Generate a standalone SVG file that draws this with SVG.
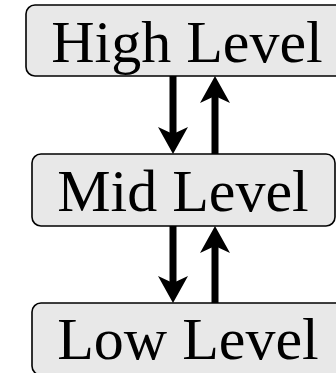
<svg xmlns="http://www.w3.org/2000/svg" width="336" height="373" viewBox="0 0 336 373">
<defs>
<style>
.box{fill:#e8e8e8;stroke:#000;stroke-width:1.6}
.lbl{font-family:"Liberation Serif","Times New Roman",serif;font-size:60px;fill:#000;text-anchor:middle}
.edge{stroke:#000;stroke-width:7;fill:none}
.head{fill:#000}
</style>
</defs>
<g id="high">
<rect class="box" x="26" y="5" width="322" height="71" rx="9"/>
<text class="lbl" x="187" y="62">High Level</text>
</g>
<g id="mid">
<rect class="box" x="32" y="154" width="303" height="72" rx="9"/>
<text class="lbl" x="183" y="211">Mid Level</text>
</g>
<g id="low">
<rect class="box" x="32" y="303" width="312" height="72" rx="9"/>
<text class="lbl" x="188" y="359">Low Level</text>
</g>
<g id="connectors">
<line class="edge" x1="173" y1="76" x2="173" y2="138"/>
<path class="head" d="M173,154 L158,127 L173,134 L188,127 Z"/>
<line class="edge" x1="215" y1="154" x2="215" y2="92"/>
<path class="head" d="M215,76 L200,103 L215,96 L230,103 Z"/>
<line class="edge" x1="173" y1="226" x2="173" y2="287"/>
<path class="head" d="M173,303 L158,276 L173,283 L188,276 Z"/>
<line class="edge" x1="215" y1="303" x2="215" y2="242"/>
<path class="head" d="M215,226 L200,253 L215,246 L230,253 Z"/>
</g>
</svg>
